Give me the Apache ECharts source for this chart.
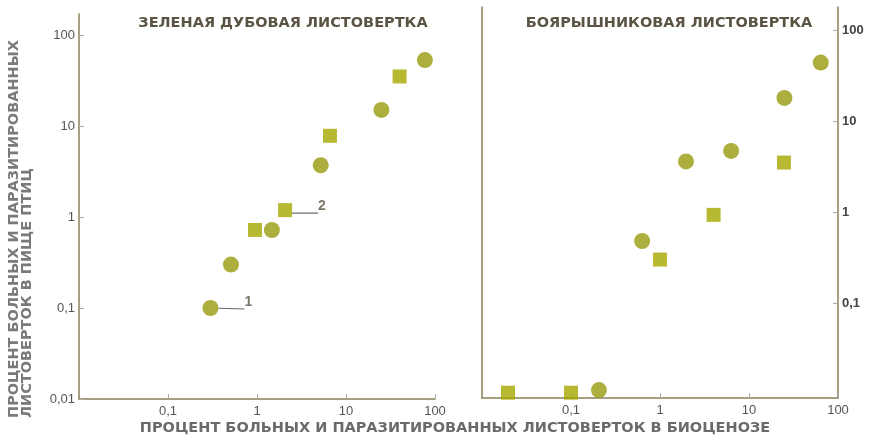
<!DOCTYPE html>
<html>
<head>
<meta charset="utf-8">
<script src="https://cdn.jsdelivr.net/npm/echarts@6/dist/echarts.min.js"></script>
<style>
  html, body { margin: 0; padding: 0; background: #fff; }
  #chart { width: 870px; height: 440px; }
</style>
</head>
<body>
<div id="chart"></div>
<script>
// зеленая дубовая листовертка: [x, y]
const oakCircles = [[0.3, 0.1], [0.51, 0.3], [1.47, 0.72], [5.2, 3.7], [25, 15], [77, 53]];
const oakSquares = [[0.95, 0.72], [2.07, 1.19], [6.6, 7.8], [40, 35]];
// боярышниковая листовертка
const hawCircles = [[0.206, 0.011], [0.63, 0.48], [1.96, 3.6], [6.3, 4.7], [25, 18], [64, 44]];
const hawSquares = [[0.0196, 0.0103], [0.1, 0.0103], [1.0, 0.3], [4.0, 0.93], [24.7, 3.5]];
const logTicks = [0.01, 0.1, 1, 10, 100];
const rightYTicks = [0.1, 1, 10, 100];
const xTicks = [0.1, 1, 10, 100];

const axisColor = "#8b8058";
const textColor = "#5b5444";
const circleColor = "#979a0c";
const squareColor = "#a6a800";
const font = "'Liberation Sans', Arial, sans-serif";
const titleFont = "'DejaVu Sans', sans-serif";

function fmt(v) {
  return String(v).replace(".", ",");
}

function xAxis(gridIndex) {
  return {
    type: "log",
    gridIndex: gridIndex,
    min: 0.01,
    max: 100,
    axisLine: { show: true, lineStyle: { color: axisColor, width: 1.5 } },
    axisTick: { show: true, inside: true, length: 5, customValues: xTicks, lineStyle: { color: "#aaa" } },
    axisLabel: {
      customValues: xTicks,
      formatter: fmt,
      color: "#555",
      fontFamily: font,
      fontSize: 13,
      margin: 6,
    },
    splitLine: { show: false },
    minorTick: { show: false },
  };
}

const chart = echarts.init(document.getElementById("chart"));
const option = {
  animation: false,
  title: [
    {
      text: "ЗЕЛЕНАЯ ДУБОВАЯ ЛИСТОВЕРТКА",
      left: 278,
      top: 11,
      textAlign: "center",
      textStyle: { color: textColor, fontFamily: titleFont, fontSize: 14.5, fontWeight: "bold" },
    },
    {
      text: "БОЯРЫШНИКОВАЯ ЛИСТОВЕРТКА",
      left: 664,
      top: 11,
      textAlign: "center",
      textStyle: { color: textColor, fontFamily: titleFont, fontSize: 14.5, fontWeight: "bold" },
    },
  ],
  graphic: [
    {
      type: "text",
      x: 455,
      y: 428,
      style: {
        text: "ПРОЦЕНТ БОЛЬНЫХ И ПАРАЗИТИРОВАННЫХ ЛИСТОВЕРТОК В БИОЦЕНОЗЕ",
        fill: "#6a6a6a",
        font: "bold 14.5px 'DejaVu Sans', sans-serif",
        align: "center",
        verticalAlign: "middle",
      },
    },
    {
      type: "text",
      x: 14,
      y: 418,
      rotation: Math.PI / 2,
      style: {
        text: "ПРОЦЕНТ БОЛЬНЫХ И ПАРАЗИТИРОВАННЫХ",
        fill: "#7a7a7a",
        font: "bold 14.5px 'DejaVu Sans', sans-serif",
        align: "left",
        verticalAlign: "middle",
      },
    },
    {
      type: "text",
      x: 27,
      y: 418,
      rotation: Math.PI / 2,
      style: {
        text: "ЛИСТОВЕРТОК В ПИЩЕ ПТИЦ",
        fill: "#7a7a7a",
        font: "bold 14.5px 'DejaVu Sans', sans-serif",
        align: "left",
        verticalAlign: "middle",
      },
    },
  ],
  grid: [
    { left: 79, right: 435, top: 14, bottom: 41 },
    { left: 482, right: 32, top: 7, bottom: 42 },
  ],
  xAxis: [xAxis(0), xAxis(1)],
  yAxis: [
    {
      type: "log",
      gridIndex: 0,
      min: 0.01,
      max: 170,
      axisLine: { show: true, lineStyle: { color: axisColor, width: 1.5 } },
      axisTick: { show: true, inside: true, length: 5, customValues: logTicks, lineStyle: { color: "#aaa" } },
      axisLabel: { customValues: logTicks, formatter: fmt, color: "#555", fontFamily: font, fontSize: 13, margin: 4 },
      splitLine: { show: false },
    },
    {
      type: "log",
      gridIndex: 1,
      position: "right",
      min: 0.009,
      max: 180,
      axisLine: { show: true, lineStyle: { color: axisColor, width: 1.5 } },
      axisTick: { show: true, inside: true, length: 5, customValues: rightYTicks, lineStyle: { color: "#aaa" } },
      axisLabel: { customValues: rightYTicks, formatter: fmt, color: "#444", fontFamily: font, fontSize: 13, fontWeight: "bold", margin: 4 },
      splitLine: { show: false },
    },
    {
      type: "log",
      gridIndex: 1,
      position: "left",
      min: 0.009,
      max: 180,
      axisLine: { show: true, lineStyle: { color: axisColor, width: 1.5 } },
      axisTick: { show: false },
      axisLabel: { show: false },
      splitLine: { show: false },
    },
  ],
  series: [
    {
      type: "scatter",
      xAxisIndex: 0,
      yAxisIndex: 0,
      symbol: "circle",
      symbolSize: 16,
      itemStyle: { color: circleColor },
      data: oakCircles.map((d, i) =>
        i === 0
          ? {
              value: d,
              label: { show: true, formatter: "1", color: textColor, fontFamily: font, fontSize: 14, fontWeight: "bold", position: "right", distance: 26, offset: [0, -6] },
              labelLine: { show: true, lineStyle: { color: "#666", width: 1.2 } },
            }
          : d
      ),
    },
    {
      type: "scatter",
      xAxisIndex: 0,
      yAxisIndex: 0,
      symbol: "rect",
      symbolSize: 14,
      itemStyle: { color: squareColor },
      data: oakSquares.map((d, i) =>
        i === 1
          ? {
              value: d,
              label: { show: true, formatter: "2", color: textColor, fontFamily: font, fontSize: 14, fontWeight: "bold", position: "right", distance: 26, offset: [0, -4] },
              labelLine: { show: true, lineStyle: { color: "#666", width: 1.2 } },
            }
          : d
      ),
    },
    {
      type: "scatter",
      xAxisIndex: 1,
      yAxisIndex: 1,
      symbol: "circle",
      symbolSize: 16,
      itemStyle: { color: circleColor },
      data: hawCircles,
    },
    {
      type: "scatter",
      xAxisIndex: 1,
      yAxisIndex: 1,
      symbol: "rect",
      symbolSize: 14,
      itemStyle: { color: squareColor },
      data: hawSquares,
    },
  ],
};
chart.setOption(option);
</script>
</body>
</html>
